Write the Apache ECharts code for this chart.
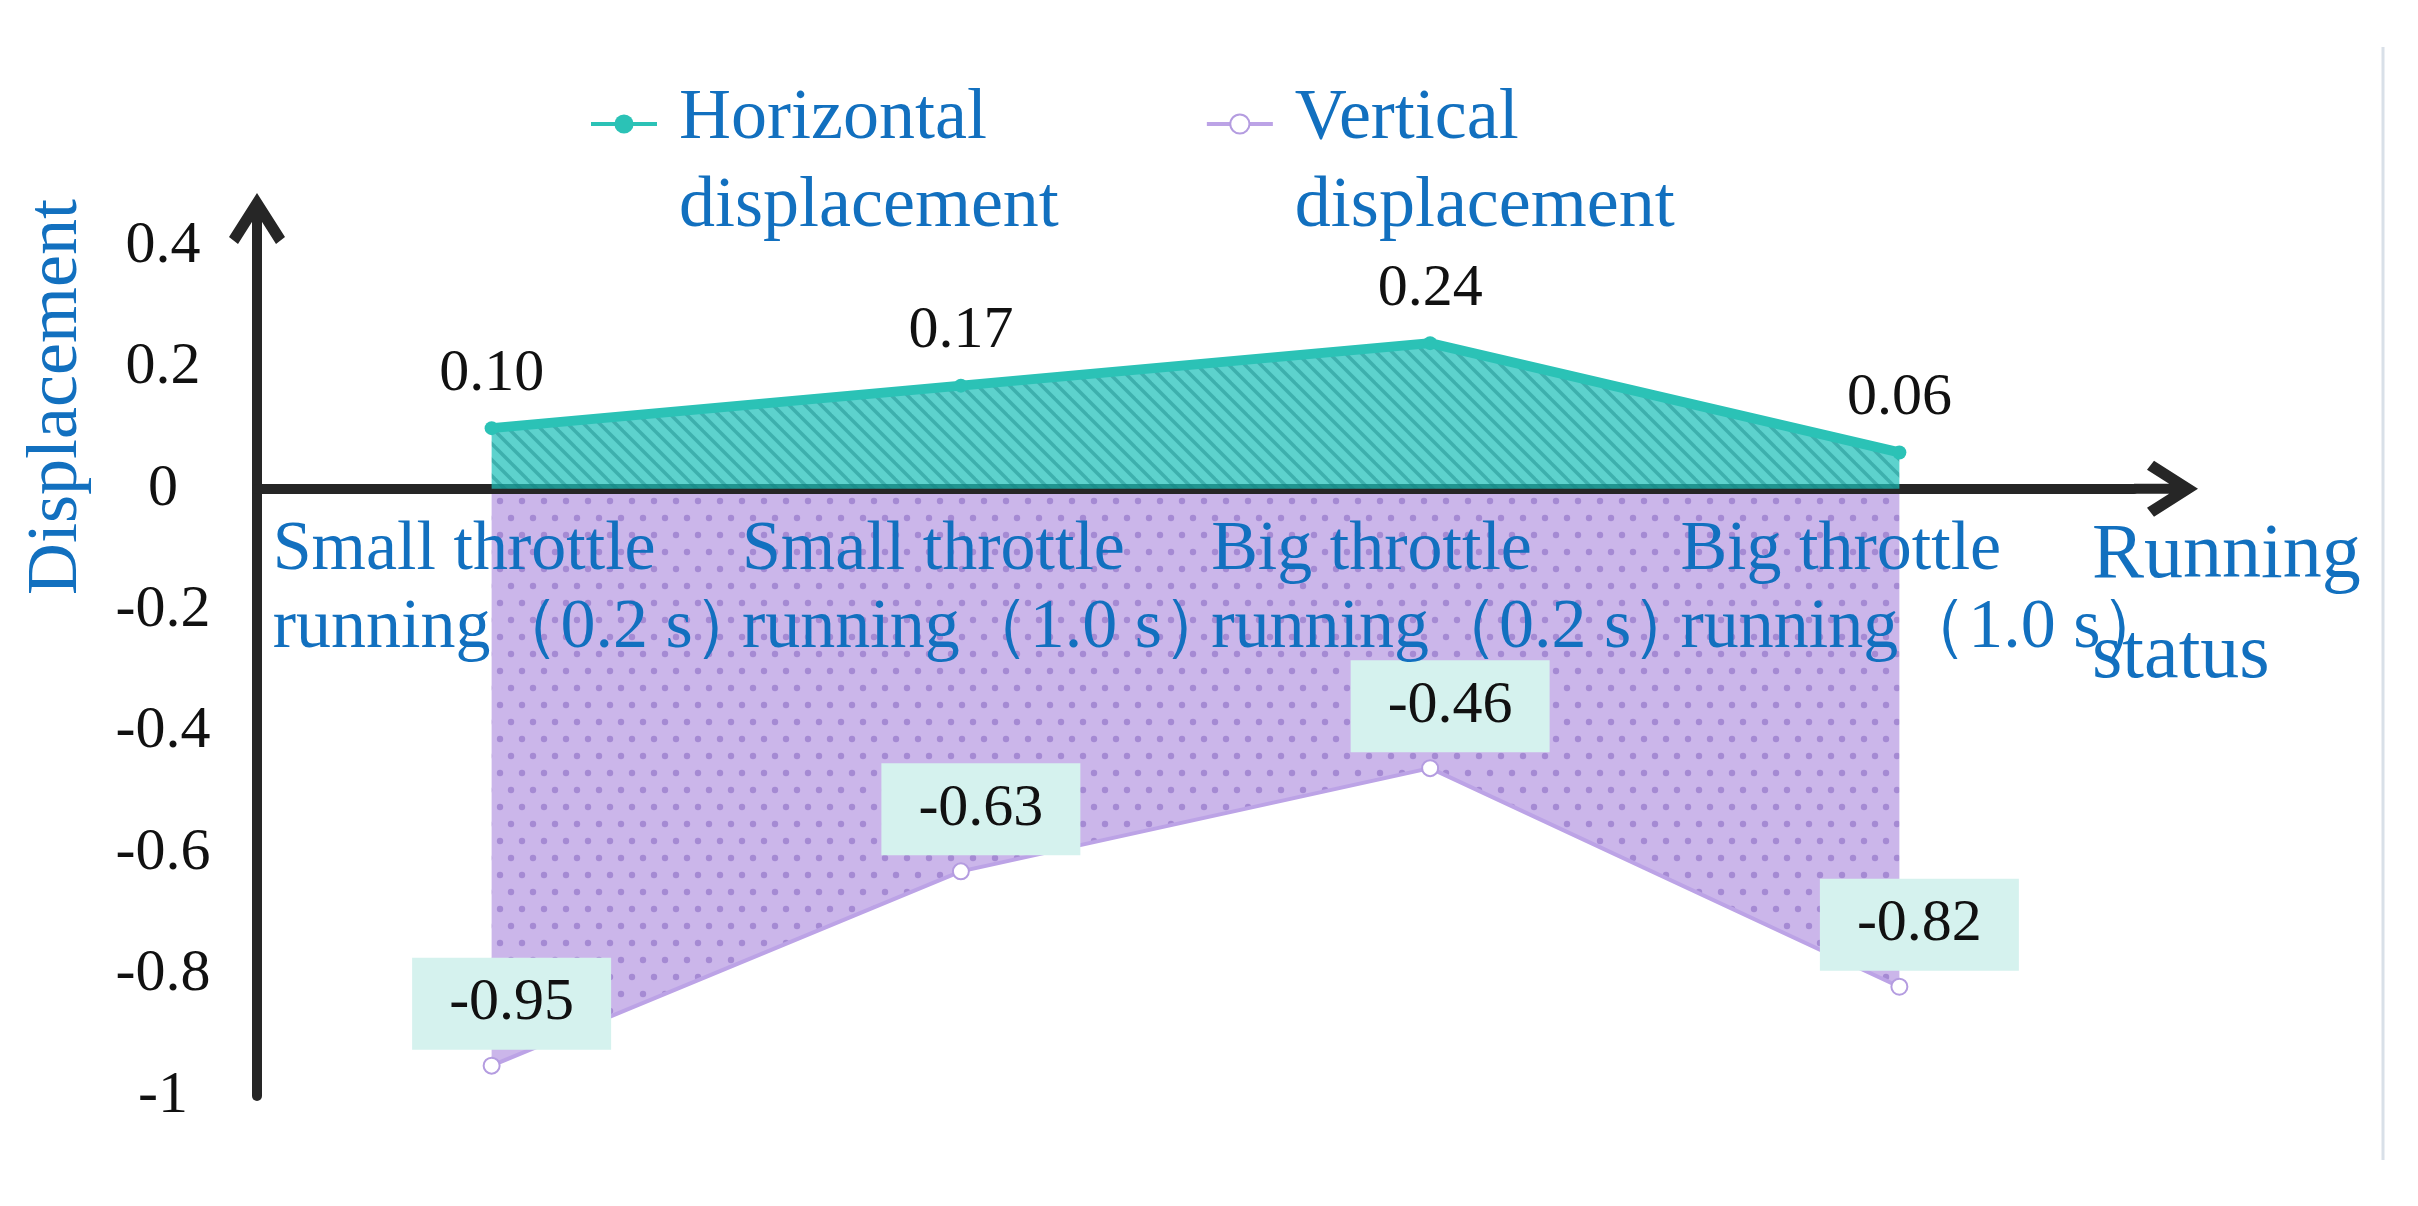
<!DOCTYPE html>
<html><head><meta charset="utf-8">
<script src="https://cdn.jsdelivr.net/npm/echarts@6/dist/echarts.min.js"></script>
<style>html,body{margin:0;padding:0;background:#fff}#c{width:2418px;height:1206px}</style>
</head><body><div id="c"></div>
<script>
const categories = [
  'Small throttle\nrunning（0.2 s）',
  'Small throttle\nrunning（1.0 s）',
  'Big throttle\nrunning（0.2 s）',
  'Big throttle\nrunning（1.0 s）'
];
const horizontalDisp = [0.10, 0.17, 0.24, 0.06];
const verticalDisp = [-0.95, -0.63, -0.46, -0.82];
const seriesNames = ['Horizontal displacement', 'Vertical displacement'];
const yMin = -1, yMax = 0.4, yStep = 0.2;
const xAxisName = 'Running\nstatus';
const yAxisName = 'Displacement';

const font = '"Liberation Serif","Times New Roman",serif';
const blue = '#1270BF';
const gridTop = 246, gridBottom = 110, chartH = 1206;
const gridH = chartH - gridTop - gridBottom;
const zeroOffset = -(0 - yMin) / (yMax - yMin) * gridH;

function hatchPattern() {
  const s = 16;
  const c = document.createElement('canvas'); c.width = s; c.height = s;
  const g = c.getContext('2d');
  g.fillStyle = 'rgba(30,192,186,0.72)'; g.fillRect(0, 0, s, s);
  g.strokeStyle = 'rgba(20,130,132,0.42)'; g.lineWidth = 3.5;
  for (const k of [-s, 0, s]) { g.beginPath(); g.moveTo(k - 3, -3); g.lineTo(k + s + 3, s + 3); g.stroke(); }
  return c;
}
function dotPattern() {
  const w = 22, h = 34;
  const c = document.createElement('canvas'); c.width = w; c.height = h;
  const g = c.getContext('2d');
  g.fillStyle = 'rgba(155,115,215,0.52)'; g.fillRect(0, 0, w, h);
  g.fillStyle = 'rgba(120,85,185,0.45)';
  [[5, 8], [16, 25]].forEach(([x, y]) => { g.beginPath(); g.arc(x, y, 3.2, 0, Math.PI * 2); g.fill(); });
  return c;
}
const arrowX = 'path://M28,0 L56,44 L47,51 L28,21 L9,51 L0,44 Z M23,10 L33,10 L33,64 L23,64 Z';
const arrowY = 'path://M28,0 L56,44 L47,51 L28,21 L9,51 L0,44 Z M23,10 L33,10 L33,53 L23,53 Z';

const chart = echarts.init(document.getElementById('c'));
chart.setOption({
  animation: false,
  backgroundColor: '#fff',
  grid: { left: 257, right: 284, top: gridTop, bottom: gridBottom, containLabel: false, outerBoundsMode: 'none' },
  legend: {
    left: 584, top: 26, itemWidth: 66, itemHeight: 24, itemGap: 146,
    lineStyle: { width: 4 },
    formatter: n => '{e| }\n' + n.split(' ').map(s => '{a|' + s + '}').join('\n'),
    textStyle: {
      color: blue, padding: [0, 0, 0, 17],
      rich: {
        e: { fontSize: 10, lineHeight: 78, align: 'left' },
        a: { fontFamily: font, fontSize: 72, lineHeight: 88, color: blue, align: 'left' }
      }
    },
    data: seriesNames
  },
  xAxis: {
    type: 'category', data: categories, boundaryGap: true, z: 2.5,
    offset: zeroOffset,
    axisLine: { onZero: false, lineStyle: { color: '#262626', width: 10 },
      symbol: ['none', arrowX], symbolSize: [56, 64], symbolOffset: [0, 32] },
    axisTick: { show: false },
    axisLabel: {
      interval: 0, margin: 23, padding: [0, 0, 0, 52],
      formatter: v => v.split('\n').map(s => '{a|' + s + '}').join('\n'),
      rich: { a: { fontFamily: font, fontSize: 70, lineHeight: 78, color: blue, align: 'left' } }
    },
    name: xAxisName, nameLocation: 'end', nameGap: -42, nameMoveOverlap: false,
    nameTextStyle: { fontFamily: font, fontSize: 78, lineHeight: 100, color: blue,
      align: 'left', verticalAlign: 'top', padding: [18, 0, 0, 0] }
  },
  yAxis: {
    type: 'value', min: yMin, max: yMax, interval: yStep,
    axisLine: { show: true, lineStyle: { color: '#262626', width: 10 },
      symbol: ['none', arrowY], symbolSize: [56, 53], symbolOffset: [0, 26.5] },
    axisTick: { show: false },
    splitLine: { show: false },
    axisLabel: { fontFamily: font, fontSize: 60, color: '#111', align: 'center', margin: 94 },
    name: yAxisName, nameLocation: 'middle', nameGap: 164, nameMoveOverlap: false,
    nameTextStyle: { fontFamily: font, fontSize: 72, color: blue, padding: [0, 0, 0, 548] }
  },
  graphic: [{ type: 'line', silent: true, shape: { x1: 2383, y1: 47, x2: 2383, y2: 1160 },
    style: { stroke: '#D9E0E8', lineWidth: 3 } }],
  series: [
    {
      name: seriesNames[0], type: 'line', data: horizontalDisp, z: 3,
      symbol: 'circle', symbolSize: 14,
      itemStyle: { color: '#2BC2B6' },
      lineStyle: { color: '#2BC2B6', width: 10 },
      areaStyle: { color: { image: hatchPattern(), repeat: 'repeat' }, opacity: 1 },
      label: { show: true, position: 'top', distance: 17, formatter: p => p.value.toFixed(2),
        fontFamily: font, fontSize: 60, color: '#111' }
    },
    {
      name: seriesNames[1], type: 'line', data: verticalDisp, z: 2,
      symbol: 'emptyCircle', symbolSize: 16,
      itemStyle: { color: '#B49CE0', borderWidth: 3 },
      lineStyle: { color: '#BCA3E6', width: 4 },
      areaStyle: { color: { image: dotPattern(), repeat: 'repeat' }, opacity: 1 },
      label: { show: true, position: 'top', distance: 7, offset: [20, 0],
        backgroundColor: '#D5F2EE', padding: [16, 37], formatter: p => p.value.toFixed(2),
        fontFamily: font, fontSize: 60, lineHeight: 60, color: '#111' }
    }
  ]
});
</script></body></html>
